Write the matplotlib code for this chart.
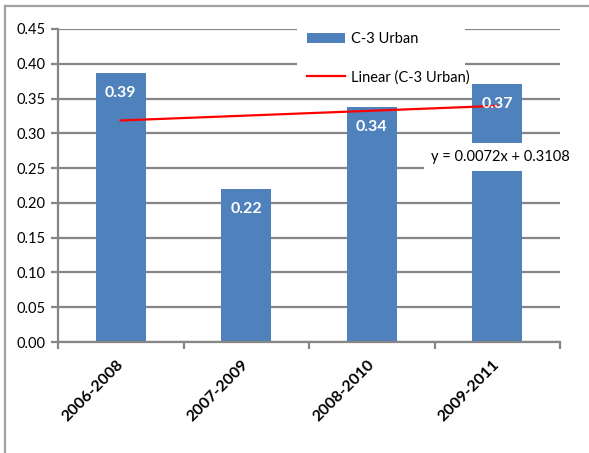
import matplotlib
matplotlib.use("Agg")
import matplotlib.pyplot as plt
import numpy as np
from matplotlib.patches import Patch
from matplotlib.lines import Line2D

categories = ["2006-2008", "2007-2009", "2008-2010", "2009-2011"]
values = [0.387, 0.220, 0.338, 0.371]
value_labels = ["0.39", "0.22", "0.34", "0.37"]
series_name = "C-3 Urban"
trend_name = "Linear (C-3 Urban)"
equation = "y = 0.0072x + 0.3108"
yticks = [0.00, 0.05, 0.10, 0.15, 0.20, 0.25, 0.30, 0.35, 0.40, 0.45]

plt.rcParams['font.family'] = ['Lato', 'DejaVu Sans']

W, H = 589, 453
fig = plt.figure(figsize=(W / 100, H / 100), dpi=100)
ax = fig.add_axes([58 / W, (H - 342) / H, (560 - 58) / W, (342 - 29) / H])

grid_c = "#868686"
bar_c = "#4F81BD"
x = np.arange(len(categories))

ax.bar(x, values, width=0.4, color=bar_c, zorder=2)
for xi, v, lab in zip(x, values, value_labels):
    ax.annotate(lab, (xi, v), xytext=(0, -20), textcoords="offset pixels",
                ha="center", va="center", color="white", fontweight="bold",
                fontsize=11.5, zorder=4)

coef = np.polyfit(x + 1, values, 1)
tx = np.array([x[0], x[-1]])
ax.plot(tx, np.polyval(coef, tx + 1), color="#FF0000", lw=1.6, zorder=3)

ax.set_xlim(-0.5, len(categories) - 0.5)
ax.set_ylim(0, 0.45)
ax.set_yticks(yticks)
ax.set_yticklabels([f"{t:.2f}" for t in yticks], fontsize=10.5)
ax.yaxis.grid(True, color=grid_c, lw=1.6, zorder=0)
ax.set_axisbelow(True)

ax.set_xticks(np.arange(-0.5, len(categories), 1.0))
ax.set_xticklabels([])
ax.set_xticks(x, minor=True)
ax.set_xticklabels(categories, minor=True, rotation=45, ha="right", va="center",
                   rotation_mode="anchor", fontsize=11.5, fontweight="bold")
ax.tick_params(axis="x", which="minor", length=0, pad=15)
ax.tick_params(axis="x", which="major", length=5, width=1.6, color=grid_c)
ax.tick_params(axis="y", length=5, width=1.6, color=grid_c, pad=4)

for s in ["top", "right"]:
    ax.spines[s].set_visible(False)
for s in ["left", "bottom"]:
    ax.spines[s].set_color(grid_c)
    ax.spines[s].set_linewidth(1.6)

handles = [Patch(facecolor=bar_c, edgecolor="none"),
           Line2D([0], [0], color="#FF0000", lw=1.6)]
leg = ax.legend(handles, [series_name, trend_name], loc="upper left",
                bbox_to_anchor=(297 / W, 1 - 22 / H, (465 - 297) / W, 0),
                bbox_transform=fig.transFigure, mode="expand",
                frameon=True, fancybox=False, framealpha=1, edgecolor="none",
                facecolor="white", fontsize=10.5, labelspacing=1.65,
                handlelength=2.6, handleheight=0.75, handletextpad=0.4,
                borderpad=0.7, borderaxespad=0)
leg.set_zorder(5)

fig.text(500 / W, 1 - 157 / H, equation, ha="center", va="center", fontsize=10.5,
         bbox=dict(facecolor="white", edgecolor="none", pad=5), zorder=6)

fig.add_artist(Line2D([5 / W, 5 / W], [0, 1 - 6 / H], transform=fig.transFigure,
                      color="#A0A0A0", lw=1.6))
fig.add_artist(Line2D([5 / W, 1], [1 - 6 / H, 1 - 6 / H], transform=fig.transFigure,
                      color="#A0A0A0", lw=1.6))

fig.savefig("out.png", dpi=100)
